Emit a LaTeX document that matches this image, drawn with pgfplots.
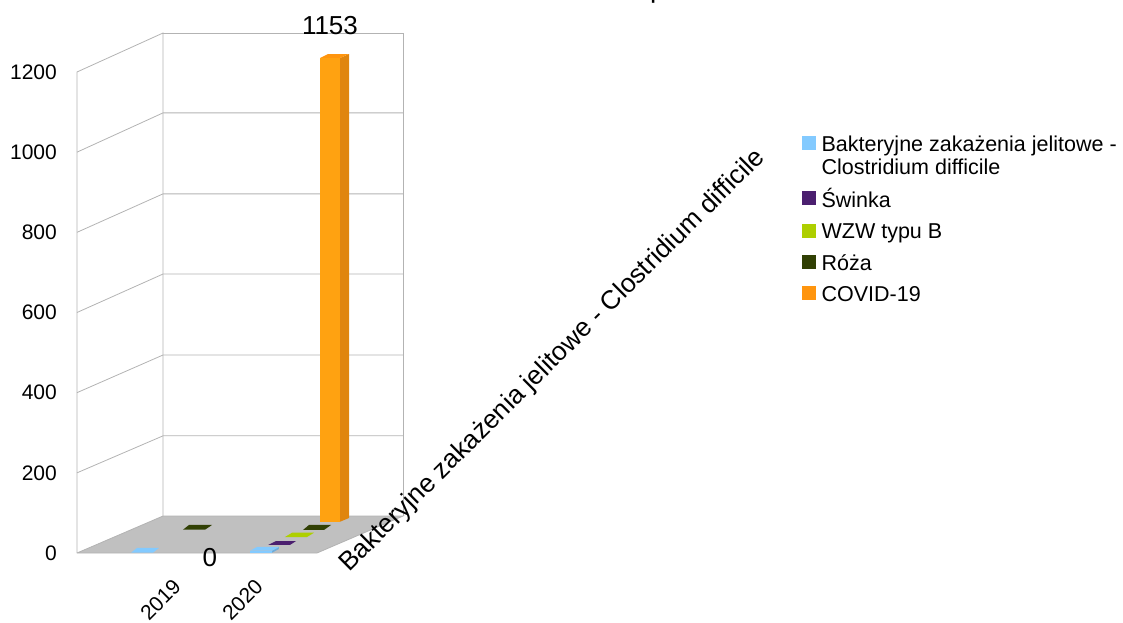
\documentclass[border=0pt]{standalone}
\usepackage{fontspec}
\setmainfont{Liberation Sans}
\usepackage{pgfplots}
\pgfplotsset{compat=1.18}
\definecolor{cBak}{HTML}{83CAFF}
\definecolor{cBakS}{HTML}{6FACD9}
\definecolor{cSwi}{HTML}{4B1F6F}
\definecolor{cWzw}{HTML}{AECF00}
\definecolor{cRoz}{HTML}{314004}
\definecolor{cCov}{HTML}{FF950E}
\definecolor{cCovF}{HTML}{FFA211}
\definecolor{cCovS}{HTML}{E0850E}
\definecolor{cGrid}{HTML}{B3B3B3}
\definecolor{cFloor}{HTML}{C0C0C0}
\newcommand{\fsz}[1]{\fontsize{#1}{#1}\selectfont}
\newcommand{\lstrut}{\rule[-6pt]{0pt}{22pt}}
\begin{document}
\begin{tikzpicture}[x=1pt,y=1pt]
\path[use as bounding box] (-77,-69) rectangle (1046,553);
\begin{axis}[
  at={(0,0)}, anchor=south west,
  scale only axis, width=240pt, height=481pt,
  xmin=-0.5, xmax=1.5, ymin=0, ymax=1200,
  clip=false,
  axis line style={draw=none},
  major tick length=0pt,
  tick style={draw=none},
  ytick={0,200,400,600,800,1000,1200},
  xtick={0.084,0.767},
  xticklabels={2019,2020},
  /pgf/number format/assume math mode=true,
  /pgf/number format/1000 sep={},
  yticklabel style={font=\fsz{21}, inner sep=0pt, anchor=east, xshift=-20pt},
  xticklabel style={font=\fsz{21}, inner sep=0pt, rotate=45, anchor=north east, yshift=-35pt},
  legend style={at={(3.0208,0.8785)}, anchor=north west, draw=none, fill=none,
    font=\fsz{21.5}, inner sep=0pt, legend cell align=left,
    nodes={text depth=, text height=, inner ysep=4.6pt}},
]
% floor and walls
\addplot[forget plot, draw=none, fill=cFloor] coordinates {(-0.5,0) (1.5,0) (2.217,92.3) (0.217,92.3)} -- cycle;
\addplot[forget plot, cGrid, line width=0.8pt] coordinates {(-0.5,0) (1.5,0) (2.217,92.3) (0.217,92.3) (-0.5,0)};
\addplot[forget plot, cGrid, line width=0.8pt] coordinates {(-0.5,0) (-0.5,1200) (0.217,1297.3) (0.217,92.3)};
\addplot[forget plot, cGrid, line width=0.8pt] coordinates {(-0.5,200) (0.217,292.3) (2.217,292.3)};
\addplot[forget plot, cGrid, line width=0.8pt] coordinates {(-0.5,400) (0.217,494) (2.217,494)};
\addplot[forget plot, cGrid, line width=0.8pt] coordinates {(-0.5,600) (0.217,696) (2.217,696)};
\addplot[forget plot, cGrid, line width=0.8pt] coordinates {(-0.5,800) (0.217,896) (2.217,896)};
\addplot[forget plot, cGrid, line width=0.8pt] coordinates {(-0.5,1000) (0.217,1098) (2.217,1098)};
\addplot[forget plot, cGrid, line width=0.8pt] coordinates {(0.217,1297.3) (2.217,1297.3) (2.217,92.3)};
% 2019
\addplot[forget plot, draw=none, fill=cRoz] coordinates {(0.383,58.1) (0.567,58.1) (0.625,69.9) (0.433,69.9)} -- cycle;
\addplot[forget plot, draw=none, fill=cBak] coordinates {(-0.05,0.7) (0.133,0.7) (0.183,12.5) (0,12.5)} -- cycle;
% 2020
\addplot[forget plot, draw=none, fill=cCovS] coordinates {(1.692,78.1) (1.767,87.3) (1.767,1244.9) (1.692,1234.9)} -- cycle;
\addplot[forget plot, draw=none, fill=cCov] coordinates {(1.525,1234.9) (1.692,1234.9) (1.767,1244.9) (1.592,1244.9)} -- cycle;
\addplot[forget plot, draw=none, fill=cCovF] coordinates {(1.525,78.1) (1.692,78.1) (1.692,1234.9) (1.525,1234.9)} -- cycle;
\addplot[forget plot, draw=none, fill=cRoz] coordinates {(1.383,57.4) (1.558,57.4) (1.617,69.9) (1.433,69.9)} -- cycle;
\addplot[forget plot, draw=none, fill=cWzw] coordinates {(1.233,39.9) (1.417,39.9) (1.475,50.6) (1.292,50.6)} -- cycle;
\addplot[forget plot, draw=none, fill=cSwi] coordinates {(1.092,20) (1.275,20) (1.325,29.9) (1.158,29.9)} -- cycle;
\addplot[forget plot, draw=none, fill=cBakS] coordinates {(1.125,0.7) (1.183,10) (1.183,15) (1.125,5.7)} -- cycle;
\addplot[forget plot, draw=none, fill=cBak] coordinates {(0.942,5.7) (1.125,5.7) (1.183,15) (1,15)} -- cycle;
\addplot[forget plot, draw=none, fill=cBak] coordinates {(0.942,0.7) (1.125,0.7) (1.125,5.7) (0.942,5.7)} -- cycle;
% legend
\addlegendimage{legend image code/.code={\fill[cBak] (0pt,8.5pt) rectangle (13pt,21.5pt);\path (17pt,0pt);}}
\addlegendentry{\parbox[t]{310pt}{\lstrut Bakteryjne zakażenia jelitowe -\\[-0pt]\rule[-5pt]{0pt}{21pt}Clostridium difficile}}
\addlegendimage{legend image code/.code={\fill[cSwi] (0pt,-3pt) rectangle (13pt,10pt);\path (17pt,0pt);}}
\addlegendentry{\lstrut Świnka}
\addlegendimage{legend image code/.code={\fill[cWzw] (0pt,-3pt) rectangle (13pt,10pt);\path (17pt,0pt);}}
\addlegendentry{\lstrut WZW typu B}
\addlegendimage{legend image code/.code={\fill[cRoz] (0pt,-3pt) rectangle (13pt,10pt);\path (17pt,0pt);}}
\addlegendentry{\lstrut Róża}
\addlegendimage{legend image code/.code={\fill[cCov] (0pt,-3pt) rectangle (13pt,10pt);\path (17pt,0pt);}}
\addlegendentry{\lstrut COVID-19}
% texts
\node[font=\fsz{26}, inner sep=0pt] at (axis cs:1.608,1317) {1153};
\node[font=\fsz{26}, inner sep=0pt] at (axis cs:0.608,-12.5) {0};
\node[font=\fsz{26.3}, inner sep=0pt, rotate=44.8] at (axis cs:3.465,479) {Bakteryjne zakażenia jelitowe - Clostridium difficile};
\node[font=\fsz{28}, inner sep=0pt, anchor=base west] at (axis cs:4.275,1385) {p};
\end{axis}
\end{tikzpicture}
\end{document}
